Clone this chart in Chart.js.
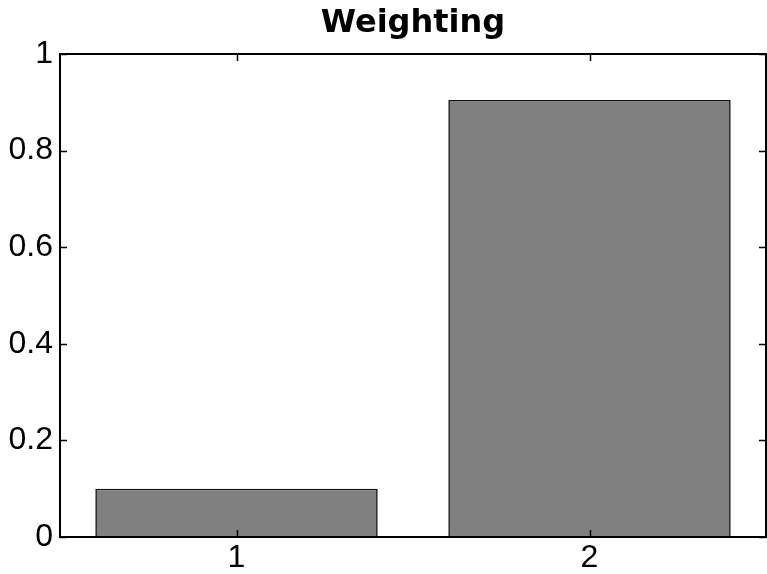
<!DOCTYPE html>
<html>
<head>
<meta charset="utf-8">
<script src="https://cdn.jsdelivr.net/npm/chart.js@4.4.0/dist/chart.umd.min.js"></script>
<style>
html,body{margin:0;padding:0;background:#fff;}
#wrap{width:767px;height:574px;position:relative;}
</style>
</head>
<body>
<div id="wrap"><canvas id="c" width="767" height="574"></canvas></div>
<script>
const categories = ['1', '2'];
const weights = [0.1, 0.905];
const yTicks = [0, 0.2, 0.4, 0.6, 0.8, 1];
const titleText = 'Weighting';

const FONT = '"Liberation Sans", Arial, sans-serif';
const TITLE_FONT = '"DejaVu Sans", "Liberation Sans", sans-serif';
const TICK_LEN = 7;

const boxPlugin = {
  id: 'boxPlugin',
  afterDatasetsDraw(chart) {
    const {ctx, chartArea: a, scales} = chart;
    ctx.save();
    ctx.strokeStyle = '#000';
    ctx.lineWidth = 1.5;
    ctx.beginPath();
    yTicks.forEach(v => {
      const y = Math.round(scales.y.getPixelForValue(v)) + 0.5;
      ctx.moveTo(a.left, y); ctx.lineTo(a.left + TICK_LEN, y);
      ctx.moveTo(a.right, y); ctx.lineTo(a.right - TICK_LEN, y);
    });
    categories.forEach((c, i) => {
      const x = Math.round(scales.x.getPixelForValue(i)) + 0.5;
      ctx.moveTo(x, a.top); ctx.lineTo(x, a.top + TICK_LEN);
      ctx.moveTo(x, a.bottom); ctx.lineTo(x, a.bottom - TICK_LEN);
    });
    ctx.stroke();
    ctx.lineWidth = 2;
    ctx.strokeRect(a.left, a.top, a.right - a.left, a.bottom - a.top);
    ctx.restore();
  }
};

new Chart(document.getElementById('c'), {
  type: 'bar',
  data: {
    labels: categories,
    datasets: [{
      data: weights,
      backgroundColor: '#808080',
      borderColor: '#111111',
      borderWidth: 1.6,
      borderSkipped: false,
      barPercentage: 0.8,
      categoryPercentage: 1.0
    }]
  },
  options: {
    responsive: false,
    animation: false,
    devicePixelRatio: 1,
    layout: {padding: {left: 0, right: 1, top: 0, bottom: 0}},
    plugins: {
      legend: {display: false},
      tooltip: {enabled: false},
      title: {
        display: true,
        fullSize: false,
        text: titleText,
        color: '#000',
        font: {family: TITLE_FONT, size: 32, weight: 'bold', lineHeight: 1.2},
        padding: {top: 4, bottom: 11.6}
      }
    },
    scales: {
      x: {
        offset: true,
        grid: {display: false, drawTicks: false},
        border: {display: false},
        ticks: {color: '#000', font: {family: FONT, size: 32}, padding: 2},
        afterFit(s) { s.height = 37; }
      },
      y: {
        min: 0, max: 1,
        afterBuildTicks(s) { s.ticks = yTicks.map(v => ({value: v})); },
        grid: {display: false, drawTicks: false},
        border: {display: false},
        ticks: {
          color: '#000', font: {family: FONT, size: 32}, padding: 7,
          callback: v => String(v)
        },
        afterFit(s) { s.width = 60; }
      }
    }
  },
  plugins: [boxPlugin]
});
</script>
</body>
</html>
